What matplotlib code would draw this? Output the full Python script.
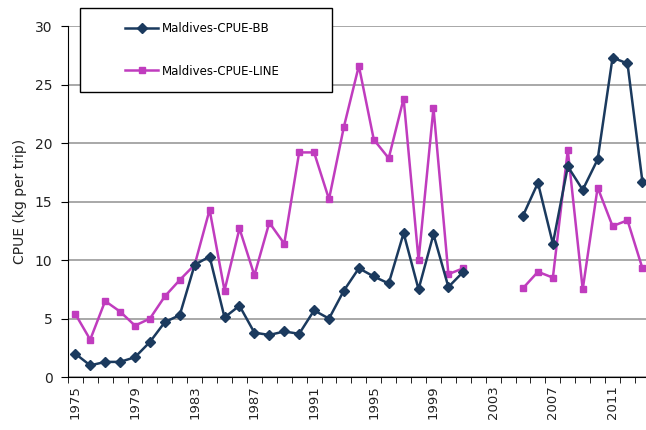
import numpy as np
import matplotlib.pyplot as plt
from matplotlib.patches import Rectangle

# data (2002-2004 missing)
years = list(range(1975, 2014))
bb = [2.0, 1.0, 1.3, 1.3, 1.7, 3.0, 4.7, 5.3, 9.6, 10.3,
      5.1, 6.1, 3.8, 3.6, 3.9, 3.7, 5.7, 5.0, 7.4, 9.3,
      8.6, 8.0, 12.3, 7.5, 12.2, 7.7, 9.0, np.nan, np.nan, np.nan,
      13.8, 16.6, 11.4, 18.0, 16.0, 18.6, 27.3, 26.8, 16.7]
line = [5.4, 3.2, 6.5, 5.6, 4.4, 5.0, 6.9, 8.3, 9.6, 14.3,
        7.4, 12.7, 8.7, 13.2, 11.4, 19.2, 19.2, 15.2, 21.4, 26.6,
        20.3, 18.7, 23.8, 10.0, 23.0, 8.8, 9.3, np.nan, np.nan, np.nan,
        7.6, 9.0, 8.5, 19.4, 7.5, 16.2, 12.9, 13.4, 9.3]
yticks = [0, 5, 10, 15, 20, 25, 30]

bb_color = '#1B3A5E'
line_color = '#C03CBE'

fig = plt.figure(figsize=(6.46, 4.30), dpi=100)
ax = fig.add_axes([0.105, 0.123, 0.901, 0.8165])

x = np.arange(len(years))
ax.plot(x, line, color=line_color, lw=1.8, marker='s', ms=5.0,
        label='Maldives-CPUE-LINE', zorder=3)
ax.plot(x, bb, color=bb_color, lw=1.8, marker='D', ms=5.5,
        label='Maldives-CPUE-BB', zorder=4)

ax.set_xlim(-0.5, len(years) - 0.5)
ax.set_ylim(0, 30)
ax.set_yticks(yticks)
ax.yaxis.grid(True, color='#999999', lw=1.2)
ax.set_axisbelow(True)

ax.set_xticks(x[::4])
ax.set_xticklabels([str(y) for y in years[::4]], rotation=90)
ax.set_xticks(np.arange(-0.5, len(years)), minor=True)
ax.tick_params(axis='x', which='major', length=0, pad=6, labelsize=9.5, colors='#222222')
ax.tick_params(axis='x', which='minor', length=4, direction='out', color='black')
ax.tick_params(axis='y', length=5, pad=6, labelsize=10, colors='#222222')
ax.tick_params(axis='both', which='both', color='black')

for s in ['top', 'right']:
    ax.spines[s].set_visible(False)
ax.spines['left'].set_color('black')
ax.spines['bottom'].set_color('black')

ax.set_ylabel('CPUE (kg per trip)', fontsize=10, color='#222222', labelpad=6)

# legend box sitting over the top of the plot
fig.patches.append(Rectangle((80 / 646, 1 - 92 / 430), 252 / 646, 84 / 430,
                             transform=fig.transFigure, facecolor='white',
                             edgecolor='black', lw=1.0, zorder=5))
h, l = ax.get_legend_handles_labels()
leg = fig.legend(h[::-1], l[::-1], loc='upper left',
                 bbox_to_anchor=(125 / 646, 1 - 22 / 430),
                 frameon=False, fontsize=8.5, borderpad=0, borderaxespad=0,
                 handlelength=2.8, handletextpad=0.3, labelspacing=2.5)
leg.set_zorder(6)

fig.savefig('out.png', dpi=100)
